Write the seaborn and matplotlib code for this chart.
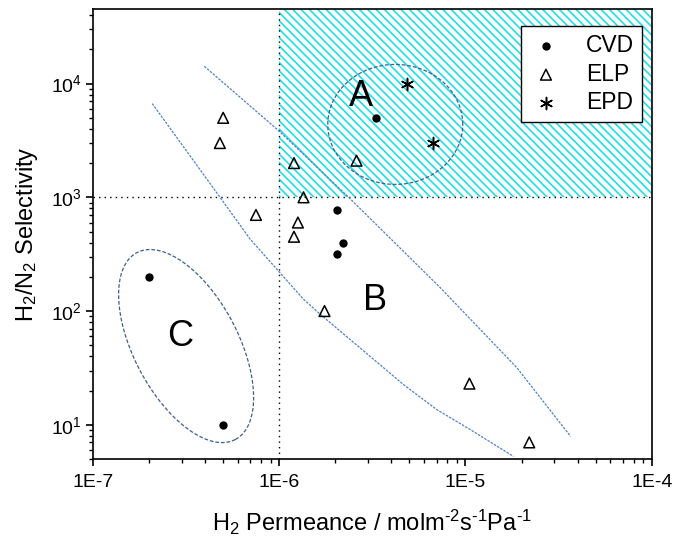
import numpy as np
import pandas as pd
import matplotlib
matplotlib.use('Agg')
import matplotlib.pyplot as plt
import matplotlib.ticker as mticker
import seaborn as sns

# DATA
cvd_perm = [3.3e-6, 2.05e-6, 2.2e-6, 2.05e-6, 2.0e-7, 5.0e-7]
cvd_sel = [5000, 780, 400, 320, 200, 10]
elp_perm = [5.0e-7, 4.8e-7, 1.2e-6, 2.6e-6, 1.35e-6, 7.5e-7, 1.26e-6, 1.2e-6, 1.75e-6, 1.05e-5, 2.2e-5]
elp_sel = [5000, 3000, 2000, 2100, 1000, 700, 600, 450, 100, 23, 7]
epd_perm = [4.85e-6, 6.7e-6]
epd_sel = [10000, 3000]

# region B boundaries
upper_perm = [3.96e-7, 9.9e-7, 2.31e-6, 7.31e-6, 1.89e-5, 3.67e-5]
upper_sel = [14200, 3870, 1035, 161, 31.7, 7.9]
lower_perm = [2.08e-7, 4.81e-7, 6.97e-7, 1.35e-6, 1.66e-6, 4.64e-6, 7.01e-6, 1.06e-5, 1.81e-5]
lower_sel = [6670, 1000, 430, 127, 93.7, 22.6, 13.6, 9.08, 5.27]

x_ticks = [1e-7, 1e-6, 1e-5, 1e-4]
x_ticklabels = ['1E-7', '1E-6', '1E-5', '1E-4']

# target zone (A) limits
zone_perm = [1e-6, 1e-4]
zone_sel = [1e3, 4.5e4]

# ellipses: centre (log x, log y), semi-axes in px, angle deg
ellA = dict(cx=-5.377, cy=3.641, a=67.5, b=60.0, ang=0.0)
ellC = dict(cx=-6.50, cy=1.692, a=105.6, b=52.2, ang=-62.2)

sns.set_theme(style='white')
plt.rcParams['font.family'] = ['Liberation Sans', 'DejaVu Sans']
plt.rcParams['mathtext.fontset'] = 'custom'
plt.rcParams['mathtext.rm'] = 'Liberation Sans'
plt.rcParams['mathtext.it'] = 'Liberation Sans:italic'
plt.rcParams['mathtext.default'] = 'regular'
plt.rcParams['text.color'] = 'black'
plt.rcParams['axes.labelcolor'] = 'black'
plt.rcParams['hatch.color'] = '#1ee0e6'
plt.rcParams['hatch.linewidth'] = 1.2

W, H = 675, 545
fig = plt.figure(figsize=(W / 100, H / 100), dpi=100)
ax = fig.add_axes([93 / W, 1 - 459 / H, 558.7 / W, 449.7 / H])
ax.set_xscale('log')
ax.set_yscale('log')
ax.set_xlim(1e-7, 1e-4)
ax.set_ylim(5, 4.5e4)

# hatched zone
ax.fill_between(zone_perm, zone_sel[0], zone_sel[1], facecolor='none',
                edgecolor='#1ee0e6', hatch='\\\\\\\\', linewidth=0, zorder=0)

# dotted guide lines
ax.axvline(1e-6, color='black', lw=1, dashes=(1, 3), zorder=1)
ax.axhline(1e3, color='black', lw=1, dashes=(1, 3), zorder=1)

# region B boundaries
ax.plot(upper_perm, upper_sel, color='#4f82cc', lw=0.9, dashes=(2, 1), zorder=1)
ax.plot(lower_perm, lower_sel, color='#4f82cc', lw=0.9, dashes=(2, 1), zorder=1)

# ellipses drawn in log space (px per decade from axes size)
xdec = 558.7 / 3
ydec = 449.7 / np.log10(4.5e4 / 5)
t = np.linspace(0, 2 * np.pi, 300)
for e in (ellA, ellC):
    th = np.deg2rad(e['ang'])
    dx = e['a'] * np.cos(t) * np.cos(th) - e['b'] * np.sin(t) * np.sin(th)
    dy = e['a'] * np.cos(t) * np.sin(th) + e['b'] * np.sin(t) * np.cos(th)
    ax.plot(10 ** (e['cx'] + dx / xdec), 10 ** (e['cy'] + dy / ydec),
            color='#3e5f92', lw=0.9, dashes=(3, 1.5), zorder=1)

# points
sns.scatterplot(x=cvd_perm, y=cvd_sel, marker='o', s=36, color='black',
                edgecolor='black', linewidth=0, label='CVD', ax=ax, zorder=3)
sns.scatterplot(x=elp_perm, y=elp_sel, marker='^', s=60, facecolor='none',
                edgecolor='black', linewidth=1.1, label='ELP', ax=ax, zorder=3)
sns.scatterplot(x=epd_perm, y=epd_sel, marker=(6, 2, 0), s=75, color='black',
                linewidth=1.1, label='EPD', ax=ax, zorder=3)

# region letters
ax.text(2.76e-6, 7680, 'A', fontsize=26, ha='center', va='center')
ax.text(3.27e-6, 123, 'B', fontsize=26, ha='center', va='center')
ax.text(2.93e-7, 59.2, 'C', fontsize=26, ha='center', va='center')

# axes styling
for s in ax.spines.values():
    s.set_color('black')
    s.set_linewidth(1.2)
ax.xaxis.set_major_locator(mticker.FixedLocator(x_ticks))
ax.xaxis.set_major_formatter(mticker.FixedFormatter(x_ticklabels))
ax.xaxis.set_minor_locator(mticker.LogLocator(base=10, subs=np.arange(2, 10)))
ax.xaxis.set_minor_formatter(mticker.NullFormatter())
ax.yaxis.set_major_locator(mticker.LogLocator(base=10))
ax.yaxis.set_minor_locator(mticker.LogLocator(base=10, subs=np.arange(2, 10)))
ax.yaxis.set_minor_formatter(mticker.NullFormatter())
ax.tick_params(which='major', direction='out', length=5, width=1.2,
               labelsize=14, colors='black', bottom=True, left=True)
ax.tick_params(which='minor', direction='out', length=3, width=1.0,
               colors='black', bottom=True, left=True)
ax.tick_params(axis='x', pad=6)
ax.tick_params(axis='y', pad=3)

ax.set_xlabel(r'H$_2$ Permeance / molm$^{\text{-}2}$s$^{\text{-}1}$Pa$^{\text{-}1}$',
              fontsize=17, labelpad=12)
ax.set_ylabel('H$_2$/N$_2$ Selectivity', fontsize=17, labelpad=8)

leg = ax.legend(loc='upper right', bbox_to_anchor=(0.983, 0.963), borderaxespad=0,
                fontsize=16.5, frameon=True, fancybox=False, framealpha=1,
                edgecolor='black', handletextpad=1.0, labelspacing=0.25,
                handlelength=1.5, borderpad=0.35)
leg.get_frame().set_linewidth(1.0)

fig.savefig('out.png', dpi=100)
